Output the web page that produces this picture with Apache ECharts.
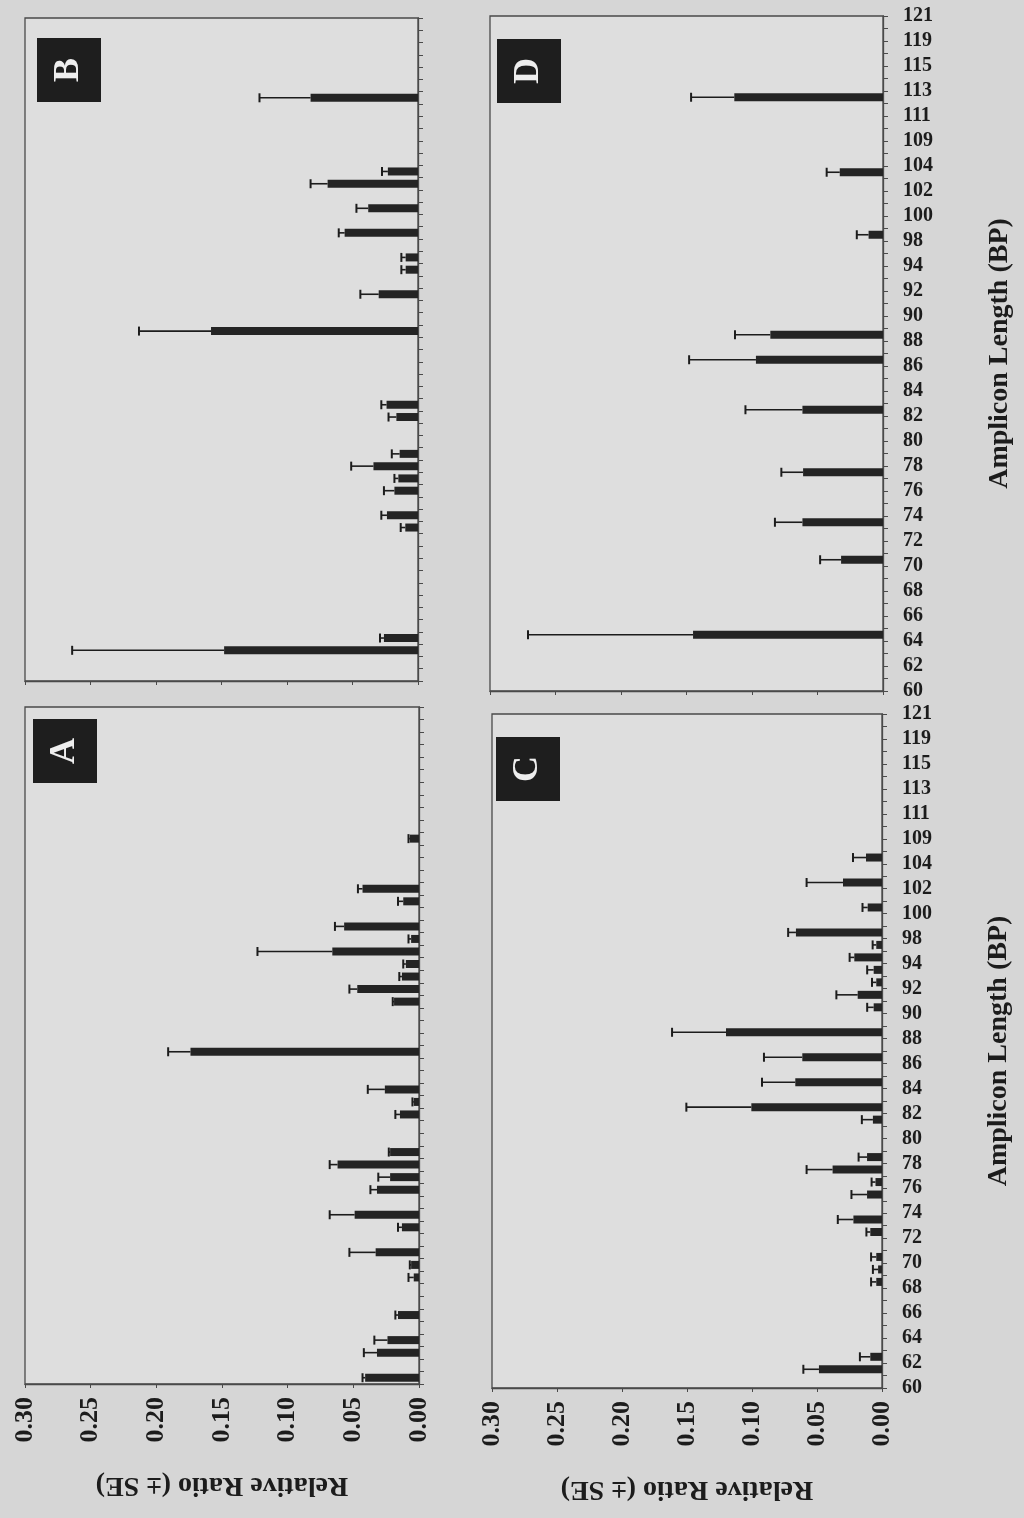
<!DOCTYPE html>
<html>
<head>
<meta charset="utf-8">
<script src="https://cdn.jsdelivr.net/npm/echarts@6/dist/echarts.min.js"></script>
<style>
  html, body { margin: 0; padding: 0; background: #d6d6d6; }
  #chart { width: 1024px; height: 1518px; }
</style>
</head>
<body>
<div id="chart"></div>
<script>
// amplicon length categories (every other one is labelled)
const categories = [
  "60", "61", "62", "63", "64", "65", "66", "67", "68", "69",
  "70", "71", "72", "73", "74", "75", "76", "77", "78", "79",
  "80", "81", "82", "83", "84", "85", "86", "87", "88", "89",
  "90", "91", "92", "93", "94", "96", "98", "99", "100", "101",
  "102", "103", "104", "106", "109", "110", "111", "112", "113", "114",
  "115", "117", "119", "120", "121"
];
const valueTicks = [0, 0.05, 0.1, 0.15, 0.2, 0.25, 0.3];

// panel A
const lengthsA = [60, 62, 63, 65, 68, 69, 70, 72, 73, 75, 76, 77, 78, 81, 82, 83, 86, 90, 91, 92, 93, 94, 96, 98, 100, 101, 106];
const meansA = [0.041, 0.032, 0.024, 0.016, 0.004, 0.006, 0.033, 0.013, 0.049, 0.032, 0.022, 0.062, 0.022, 0.0145, 0.004, 0.026, 0.174, 0.019, 0.047, 0.013, 0.010, 0.066, 0.006, 0.057, 0.012, 0.043, 0.007];
const seA = [0.002, 0.010, 0.010, 0.002, 0.004, 0.001, 0.020, 0.003, 0.019, 0.005, 0.009, 0.006, 0.001, 0.0035, 0.001, 0.013, 0.017, 0.001, 0.006, 0.002, 0.002, 0.057, 0.002, 0.007, 0.004, 0.0035, 0.001];

// panel B
const lengthsB = [62, 63, 72, 73, 75, 76, 77, 78, 81, 82, 88, 91, 93, 94, 98, 100, 102, 103, 112];
const meansB = [0.148, 0.026, 0.0097, 0.0237, 0.018, 0.015, 0.034, 0.014, 0.0165, 0.024, 0.158, 0.030, 0.0094, 0.0094, 0.056, 0.038, 0.069, 0.023, 0.082];
const seB = [0.116, 0.003, 0.0035, 0.0043, 0.008, 0.003, 0.017, 0.006, 0.006, 0.004, 0.055, 0.014, 0.0033, 0.0033, 0.0045, 0.009, 0.013, 0.0045, 0.039];

// panel C
const lengthsC = [61, 62, 68, 69, 70, 72, 73, 75, 76, 77, 78, 81, 82, 84, 86, 88, 90, 91, 92, 93, 94, 96, 98, 100, 102, 104];
const meansC = [0.0485, 0.009, 0.0044, 0.003, 0.0044, 0.009, 0.022, 0.0115, 0.005, 0.038, 0.0115, 0.007, 0.1005, 0.0667, 0.0613, 0.120, 0.0064, 0.0187, 0.0044, 0.0064, 0.0213, 0.0044, 0.0662, 0.011, 0.030, 0.0123];
const seC = [0.012, 0.008, 0.004, 0.004, 0.004, 0.003, 0.012, 0.012, 0.003, 0.020, 0.0065, 0.0085, 0.050, 0.0256, 0.0295, 0.0415, 0.005, 0.0164, 0.0033, 0.005, 0.0036, 0.0028, 0.006, 0.004, 0.028, 0.010];

// panel D
const lengthsD = [64, 70, 73, 77, 82, 86, 88, 98, 103, 112];
const meansD = [0.145, 0.032, 0.0615, 0.061, 0.0615, 0.097, 0.086, 0.011, 0.033, 0.1135];
const seD = [0.126, 0.016, 0.021, 0.0166, 0.0435, 0.051, 0.027, 0.009, 0.010, 0.033];

const FONT = "'Liberation Serif', 'Times New Roman', serif";
const INK = "#1c1c1c";

const panels = [
  { letter: "A", lengths: lengthsA, means: meansA, se: seA, grid: { left: 25, top: 707, width: 394, height: 677 }, box: [33, 719], valueLabels: true, catLabels: false },
  { letter: "B", lengths: lengthsB, means: meansB, se: seB, grid: { left: 25, top: 18, width: 393, height: 663 }, box: [37, 38], valueLabels: false, catLabels: false },
  { letter: "C", lengths: lengthsC, means: meansC, se: seC, grid: { left: 492, top: 714, width: 390, height: 674 }, box: [496, 737], valueLabels: true, catLabels: true },
  { letter: "D", lengths: lengthsD, means: meansD, se: seD, grid: { left: 490, top: 16, width: 393, height: 675 }, box: [497, 39], valueLabels: false, catLabels: true }
];

function errorBar(params, api) {
  const m = api.value(0);
  const y = api.value(1);
  const s = api.value(2);
  const a = api.coord([m, y]);
  const b = api.coord([m + s, y]);
  return {
    type: "group",
    children: [
      { type: "line", shape: { x1: a[0], y1: a[1], x2: b[0], y2: b[1] }, style: { stroke: INK, lineWidth: 1.6 } },
      { type: "line", shape: { x1: b[0], y1: b[1] - 4.5, x2: b[0], y2: b[1] + 4.5 }, style: { stroke: INK, lineWidth: 2 } }
    ]
  };
}

const grid = [];
const xAxis = [];
const yAxis = [];
const series = [];
const graphic = [];

panels.forEach((p, g) => {
  grid.push(Object.assign({
    show: true,
    borderColor: "#4a4a4a",
    borderWidth: 1.3,
    backgroundColor: "#dedede",
    containLabel: false,
    outerBoundsMode: "none"
  }, p.grid));

  xAxis.push({
    gridIndex: g,
    type: "value",
    min: 0,
    max: 0.3,
    interval: 0.05,
    inverse: true,
    position: "bottom",
    axisLine: { show: true, lineStyle: { color: "#4a4a4a", width: 1.3 } },
    axisTick: { show: true, length: 4, lineStyle: { color: "#4a4a4a" } },
    splitLine: { show: false },
    axisLabel: {
      show: p.valueLabels,
      rotate: 90,
      margin: 13,
      fontSize: 26,
      fontWeight: "bold",
      fontFamily: FONT,
      color: INK,
      formatter: v => valueTicks.includes(+v.toFixed(2)) ? v.toFixed(2) : ""
    },
    name: p.valueLabels ? "Relative Ratio (\u00b1 SE)" : "",
    nameLocation: "middle",
    nameRotate: 180,
    nameGap: 87,
    nameTextStyle: { fontSize: 28, fontWeight: "bold", fontFamily: FONT, color: INK }
  });

  // visible axis: ticks and labels
  yAxis.push({
    gridIndex: g,
    type: "category",
    data: categories,
    boundaryGap: false,
    position: "right",
    axisLine: { show: true, lineStyle: { color: "#4a4a4a", width: 1.3 } },
    axisTick: { show: true, interval: 0, length: 5, lineStyle: { color: "#4a4a4a" } },
    axisLabel: {
      show: p.catLabels,
      interval: 1,
      margin: 20,
      fontSize: 20,
      fontWeight: "bold",
      fontFamily: FONT,
      color: INK
    },
    name: p.catLabels ? "Amplicon Length (BP)" : "",
    nameLocation: "middle",
    nameRotate: 90,
    nameGap: 103,
    nameTextStyle: { fontSize: 28, fontWeight: "bold", fontFamily: FONT, color: INK }
  });
  // hidden axis the bars sit on
  yAxis.push({
    gridIndex: g,
    type: "category",
    data: categories.slice(0, categories.length - 1),
    boundaryGap: true,
    show: false
  });

  const idx = p.lengths.map(l => categories.indexOf(String(l)));
  series.push({
    type: "bar",
    xAxisIndex: g,
    yAxisIndex: 2 * g + 1,
    barWidth: 8,
    silent: true,
    itemStyle: { color: "#242424" },
    data: p.means.map((m, i) => [m, idx[i]])
  });
  series.push({
    type: "custom",
    xAxisIndex: g,
    yAxisIndex: 2 * g + 1,
    silent: true,
    renderItem: errorBar,
    data: p.means.map((m, i) => [m, idx[i], p.se[i]])
  });

  graphic.push({
    type: "group",
    left: p.box[0],
    top: p.box[1],
    children: [
      { type: "rect", shape: { x: 0, y: 0, width: 64, height: 64 }, style: { fill: "#1e1e1e" } },
      {
        type: "text", x: 32, y: 32, rotation: Math.PI / 2,
        style: { text: p.letter, fill: "#eeeeee", font: "bold 36px " + FONT, align: "center", verticalAlign: "middle" }
      }
    ]
  });
});

const chart = echarts.init(document.getElementById("chart"), null, { renderer: "canvas" });
chart.setOption({
  animation: false,
  backgroundColor: "#d6d6d6",
  grid,
  xAxis,
  yAxis,
  series,
  graphic
});
window.addEventListener("resize", () => chart.resize());
</script>
</body>
</html>
